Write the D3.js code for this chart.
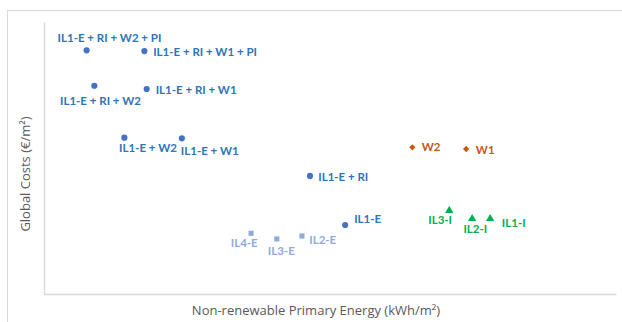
<!DOCTYPE html>
<html>
<head>
<meta charset="utf-8">
<script src="https://cdn.jsdelivr.net/npm/d3@7"></script>
<style>
  html, body { margin: 0; padding: 0; background: #fff; }
  svg { display: block; }
</style>
</head>
<body>
<svg id="chart" width="622" height="322"></svg>
<script>
// Building renovation scenarios: primary energy vs. global cost
const envelopeNames = ["IL1-E + RI + W2 + PI", "IL1-E + RI + W1 + PI", "IL1-E + RI + W2", "IL1-E + RI + W1",
                       "IL1-E + W2", "IL1-E + W1", "IL1-E + RI", "IL1-E"];
const envelopeEnergy = [14.9, 35.1, 17.6, 35.9, 28.1, 48.2, 93.0, 105.3];
const envelopeCost   = [224.0, 223.3, 191.4, 188.4, 143.7, 143.1, 108.5, 63.4];

const insulationExtNames = ["IL4-E", "IL3-E", "IL2-E"];
const insulationExtEnergy = [72.4, 81.4, 90.2];
const insulationExtCost   = [55.8, 50.6, 53.3];

const windowNames = ["W2", "W1"];
const windowEnergy = [128.8, 147.6];
const windowCost   = [134.8, 133.3];

const insulationIntNames = ["IL3-I", "IL2-I", "IL1-I"];
const insulationIntEnergy = [141.7, 149.7, 156.0];
const insulationIntCost   = [76.6, 69.2, 69.2];

const xTitle = "Non-renewable Primary Energy (kWh/m²)";
const yTitle = "Global Costs (€/m²)";

// label placement relative to each marker [dx, dy]
const labelOffset = {
  "IL1-E + RI + W2 + PI": [-29, -12.6],
  "IL1-E + RI + W1 + PI": [8.8, 0.7],
  "IL1-E + RI + W2": [-34.3, 15.3],
  "IL1-E + RI + W1": [9, 1],
  "IL1-E + W2": [-5.3, 10.6],
  "IL1-E + W1": [-1, 12.7],
  "IL1-E + RI": [8.3, 0.7],
  "IL1-E": [9, -6],
  "IL4-E": [-20.3, 9.4],
  "IL3-E": [-9, 11.7],
  "IL2-E": [7.3, 4],
  "W2": [9.4, 0],
  "W1": [9.7, 1],
  "IL3-I": [-21, 9.3],
  "IL2-I": [-8.7, 10.6],
  "IL1-I": [11.7, 4]
};

const svg = d3.select("#chart");
const W = 622, H = 322;
const plot = { left: 44, right: 616, top: 22, bottom: 294 };

const x = d3.scaleLinear().domain([0, 200]).range([plot.left, plot.right]);
const y = d3.scaleLinear().domain([0, 250]).range([plot.bottom, plot.top]);

// chart frame
svg.append("rect")
  .attr("x", 7.5).attr("y", 10.5)
  .attr("width", W).attr("height", H)
  .attr("fill", "none").attr("stroke", "#d9d9d9").attr("stroke-width", 1);

// axes (lines only, no ticks)
const xAxis = d3.axisBottom(x).tickValues([]).tickSizeOuter(0);
const yAxis = d3.axisLeft(y).tickValues([]).tickSizeOuter(0);
svg.append("g").attr("transform", `translate(0,${plot.bottom})`).call(xAxis)
  .select(".domain").attr("stroke", "#d9d9d9").attr("stroke-width", 1.5);
svg.append("g").attr("transform", `translate(${plot.left},0)`).call(yAxis)
  .select(".domain").attr("stroke", "#d9d9d9").attr("stroke-width", 1.5);

// axis titles
svg.append("text")
  .attr("x", 316).attr("y", 310).attr("dy", "0.35em")
  .attr("text-anchor", "middle")
  .attr("font-family", "Open Sans, sans-serif").attr("font-size", 13)
  .attr("fill", "#595959").text(xTitle);
svg.append("text")
  .attr("transform", "translate(25,174) rotate(-90)")
  .attr("dy", "0.35em")
  .attr("text-anchor", "middle")
  .attr("font-family", "Open Sans, sans-serif").attr("font-size", 13)
  .attr("fill", "#595959").text(yTitle);

const diamond = {
  draw(ctx, size) {
    const r = Math.sqrt(size / 2);
    ctx.moveTo(0, -r); ctx.lineTo(r, 0); ctx.lineTo(0, r); ctx.lineTo(-r, 0); ctx.closePath();
  }
};

const groups = [
  { names: envelopeNames, ex: envelopeEnergy, cost: envelopeCost, symbol: d3.symbolCircle, size: 30, fill: "#4472c4", text: "#2e75b6" },
  { names: insulationExtNames, ex: insulationExtEnergy, cost: insulationExtCost, symbol: d3.symbolSquare, size: 26, fill: "#8faadc", text: "#8faadc" },
  { names: windowNames, ex: windowEnergy, cost: windowCost, symbol: diamond, size: 20, fill: "#c55a11", text: "#c55a11" },
  { names: insulationIntNames, ex: insulationIntEnergy, cost: insulationIntCost, symbol: d3.symbolTriangle, size: 30, fill: "#00b050", text: "#00b050" }
];

groups.forEach(g => {
  const pts = g.names.map((n, i) => ({ name: n, e: g.ex[i], c: g.cost[i] }));
  const layer = svg.append("g");
  layer.selectAll("path").data(pts).join("path")
    .attr("transform", d => `translate(${x(d.e)},${y(d.c)})`)
    .attr("d", d3.symbol().type(g.symbol).size(g.size))
    .attr("fill", g.fill);
  layer.selectAll("text").data(pts).join("text")
    .attr("x", d => x(d.e) + labelOffset[d.name][0])
    .attr("y", d => y(d.c) + labelOffset[d.name][1])
    .attr("dy", "0.35em")
    .attr("font-family", "Lato, sans-serif")
    .attr("font-weight", "bold")
    .attr("font-size", 11.5)
    .attr("fill", g.text)
    .text(d => d.name);
});
</script>
</body>
</html>
